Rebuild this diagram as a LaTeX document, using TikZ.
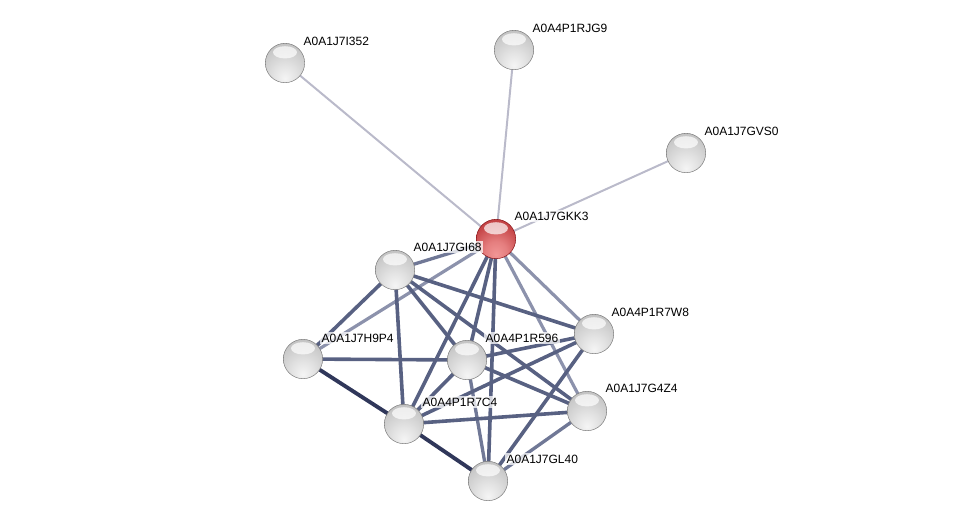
\documentclass[tikz,border=0pt]{standalone}
\usepackage{fontspec}
\setmainfont{Liberation Sans}
\pgfdeclarelayer{bg}
\pgfsetlayers{bg,main}
\definecolor{ezero}{RGB}{186,186,202}
\definecolor{eone}{RGB}{140,146,172}
\definecolor{eonem}{RGB}{112,120,150}
\definecolor{etwo}{RGB}{88,97,130}
\definecolor{ethree}{RGB}{48,55,90}
\definecolor{rrim}{RGB}{138,20,24}
\definecolor{rmid}{RGB}{198,70,72}
\definecolor{rlow}{RGB}{242,150,150}
\pgfdeclareradialshading{gsphere}{\pgfpoint{0bp}{-20bp}}{color(0bp)=(black!4); color(14bp)=(black!11); color(30bp)=(black!20); color(48bp)=(black!30); color(60bp)=(black!44); color(70bp)=(black!58); color(90bp)=(black!60)}
\pgfdeclareradialshading{rsphere}{\pgfpoint{0bp}{-20bp}}{color(0bp)=(rlow); color(14bp)=(rlow!70!rmid); color(32bp)=(rmid); color(50bp)=(rmid!80!rrim); color(62bp)=(rmid!40!rrim); color(72bp)=(rrim); color(90bp)=(rrim)}
\tikzset{
  ballbase/.style={circle, minimum size=29.5pt, inner sep=0pt,
    path picture={\fill[white, opacity=0.7] ([yshift=8pt]path picture bounding box.center) ellipse (9pt and 4.6pt);}},
  gball/.style={ballbase, shading=gsphere, draw=black!50, line width=0.4pt},
  rball/.style={ballbase, shading=rsphere, draw=rrim, line width=0.4pt},
  lbl/.style={anchor=west, font=\fontsize{9}{10}\selectfont, fill=white, fill opacity=0.75, text opacity=1, inner sep=1pt},
  ezs/.style={draw=ezero, line width=1.5pt},
  eos/.style={draw=eone, line width=2.4pt},
  eoms/.style={draw=eonem, line width=2.5pt},
  ets/.style={draw=etwo, line width=2.7pt},
  ehs/.style={draw=ethree, line width=2.9pt},
}
\begin{document}
\begin{tikzpicture}[x=0.75pt, y=-0.75pt]
\useasboundingbox (0,0) rectangle (975,526);
% nodes
\node[gball] (i352) at (285,63) {};
\node[gball] (rjg9) at (514,50) {};
\node[gball] (gvs0) at (686,153) {};
\node[rball] (gkk3) at (496,239) {};
\node[gball] (gi68) at (395,270) {};
\node[gball] (r7w8) at (594,334) {};
\node[gball] (h9p4) at (303,359) {};
\node[gball] (r596) at (467,360) {};
\node[gball] (g4z4) at (587,411) {};
\node[gball] (r7c4) at (404,424) {};
\node[gball] (gl40) at (488,481) {};
% edges
\begin{pgfonlayer}{bg}
\draw[ezs] (gkk3.center) -- (i352.center);
\draw[ezs] (gkk3.center) -- (rjg9.center);
\draw[ezs] (gkk3.center) -- (gvs0.center);
\draw[eoms] (gkk3.center) -- (gi68.center);
\draw[eos] (gkk3.center) -- (h9p4.center);
\draw[ets] (gkk3.center) -- (r596.center);
\draw[ets] (gkk3.center) -- (r7c4.center);
\draw[ets] (gkk3.center) -- (gl40.center);
\draw[eos] (gkk3.center) -- (r7w8.center);
\draw[eos] (gkk3.center) -- (g4z4.center);
\draw[ets] (gi68.center) -- (h9p4.center);
\draw[ets] (gi68.center) -- (r7c4.center);
\draw[ets] (gi68.center) -- (r596.center);
\draw[ets] (gi68.center) -- (r7w8.center);
\draw[ets] (gi68.center) -- (g4z4.center);
\draw[ets] (h9p4.center) -- (r596.center);
\draw[ehs] (h9p4.center) -- (r7c4.center);
\draw[ets] (r596.center) -- (r7w8.center);
\draw[ets] (r596.center) -- (g4z4.center);
\draw[ets] (r596.center) -- (r7c4.center);
\draw[eoms] (r596.center) -- (gl40.center);
\draw[ets] (r7c4.center) -- (r7w8.center);
\draw[ets] (r7c4.center) -- (g4z4.center);
\draw[ehs] (r7c4.center) -- (gl40.center);
\draw[ets] (r7w8.center) -- (gl40.center);
\draw[eoms] (g4z4.center) -- (gl40.center);
\end{pgfonlayer}
% labels
\node[lbl] (li352) at ([shift={(17,-22)}]i352.center) {A0A1J7I352};
\node[lbl] (lrjg9) at ([shift={(17,-22)}]rjg9.center) {A0A4P1RJG9};
\node[lbl] (lgvs0) at ([shift={(17,-22)}]gvs0.center) {A0A1J7GVS0};
\node[lbl] (lgkk3) at ([shift={(17,-23)}]gkk3.center) {A0A1J7GKK3};
\node[lbl] (lgi68) at ([shift={(17,-23)}]gi68.center) {A0A1J7GI68};
\node[lbl] (lr7w8) at ([shift={(16,-22)}]r7w8.center) {A0A4P1R7W8};
\node[lbl] (lh9p4) at ([shift={(17,-21)}]h9p4.center) {A0A1J7H9P4};
\node[lbl] (lr596) at ([shift={(17,-22)}]r596.center) {A0A4P1R596};
\node[lbl] (lg4z4) at ([shift={(17,-23)}]g4z4.center) {A0A1J7G4Z4};
\node[lbl] (lr7c4) at ([shift={(17,-22)}]r7c4.center) {A0A4P1R7C4};
\node[lbl] (lgl40) at ([shift={(17,-22)}]gl40.center) {A0A1J7GL40};
\end{tikzpicture}
\end{document}
